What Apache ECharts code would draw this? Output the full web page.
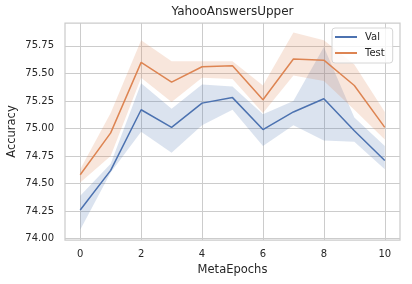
<!DOCTYPE html>
<html>
<head>
<meta charset="utf-8">
<script src="https://cdn.jsdelivr.net/npm/echarts@6/dist/echarts.min.js"></script>
<style>
html,body{margin:0;padding:0;background:#fff;}
#chart{width:412px;height:284px;}
</style>
</head>
<body>
<div id="chart"></div>
<script>
// ---- data ----
const epochs   = [0, 1, 2, 3, 4, 5, 6, 7, 8, 9, 10];
const valMean  = [74.26, 74.62, 75.17, 75.01, 75.23, 75.28, 74.99, 75.15, 75.27, 74.98, 74.71];
const valLow   = [74.08, 74.60, 74.97, 74.78, 75.03, 75.17, 74.84, 75.03, 74.89, 74.88, 74.63];
const valHigh  = [74.39, 74.68, 75.41, 75.18, 75.40, 75.38, 75.13, 75.25, 75.74, 75.10, 74.84];
const testMean = [74.58, 74.96, 75.60, 75.42, 75.56, 75.57, 75.26, 75.63, 75.62, 75.39, 75.01];
const testLow  = [74.51, 74.75, 75.46, 75.24, 75.46, 75.45, 75.14, 75.48, 75.43, 75.17, 74.90];
const testHigh = [74.63, 75.14, 75.80, 75.61, 75.61, 75.61, 75.39, 75.87, 75.80, 75.58, 75.15];
const xTicks = [0, 2, 4, 6, 8, 10];
const yTicks = [74.00, 74.25, 74.50, 74.75, 75.00, 75.25, 75.50, 75.75];
const seriesNames = ['Val', 'Test'];
const titleText = 'YahooAnswersUpper';
const xName = 'MetaEpochs';
const yName = 'Accuracy';

const FONT = 'DejaVu Sans';
const TXT = '#262626';
const GRID = '#cccccc';
const BLUE = '#4c72b0';
const ORANGE = '#dd8452';

function band(name, low, high, fill) {
  return {
    type: 'custom',
    name: name,
    silent: true,
    clip: true,
    data: epochs.map((x, i) => [x, low[i], high[i]]),
    encode: { x: 0, y: [1, 2] },
    renderItem: function (params, api) {
      if (params.dataIndex !== 0) return null;
      const pts = [];
      for (let i = 0; i < epochs.length; i++) pts.push(api.coord([epochs[i], high[i]]));
      for (let i = epochs.length - 1; i >= 0; i--) pts.push(api.coord([epochs[i], low[i]]));
      return { type: 'polygon', shape: { points: pts }, style: { fill: fill } };
    }
  };
}

function line(name, values, color) {
  return {
    type: 'line',
    name: name,
    data: epochs.map((x, i) => [x, values[i]]),
    showSymbol: false,
    symbol: 'none',
    lineStyle: { width: 1.5, color: color },
    itemStyle: { color: color },
    emphasis: { disabled: true },
    silent: true
  };
}

const chart = echarts.init(document.getElementById('chart'), null, { renderer: 'canvas' });
chart.setOption({
  animation: false,
  backgroundColor: '#ffffff',
  textStyle: { fontFamily: FONT },
  title: {
    text: titleText,
    left: 232.5,
    textAlign: 'center',
    top: 6,
    padding: 0,
    textStyle: { fontFamily: FONT, fontSize: 12, fontWeight: 'normal', color: TXT }
  },
  legend: {
    data: seriesNames,
    orient: 'vertical',
    left: 332,
    top: 28,
    icon: 'rect',
    itemWidth: 22,
    itemHeight: 2,
    itemGap: 4,
    padding: [3, 8, 4, 3],
    backgroundColor: 'rgba(255,255,255,0.8)',
    borderColor: '#d6d6d6',
    borderWidth: 1,
    borderRadius: 3,
    textStyle: { fontFamily: FONT, fontSize: 10, color: TXT, lineHeight: 12, padding: [0, 0, 0, 3] }
  },
  grid: {
    left: 65, right: 12, top: 23, bottom: 44,
    containLabel: false,
    outerBoundsMode: 'none',
    show: true, borderColor: GRID, borderWidth: 1.25, backgroundColor: '#ffffff'
  },
  xAxis: {
    type: 'value',
    min: -0.5, max: 10.5,
    name: xName,
    nameLocation: 'middle',
    nameGap: 24,
    nameMoveOverlap: false,
    nameTextStyle: { fontFamily: FONT, fontSize: 11.5, color: TXT },
    axisLine: { show: false },
    axisTick: { show: false, customValues: xTicks },
    axisLabel: { customValues: xTicks, margin: 9, fontFamily: FONT, fontSize: 10, color: TXT },
    splitLine: { show: true, lineStyle: { color: GRID, width: 1 } }
  },
  yAxis: {
    type: 'value',
    min: 73.988, max: 75.957,
    name: yName,
    nameLocation: 'middle',
    nameGap: 47,
    nameMoveOverlap: false,
    nameTextStyle: { fontFamily: FONT, fontSize: 11.5, color: TXT },
    axisLine: { show: false },
    axisTick: { show: false, customValues: yTicks },
    axisLabel: { customValues: yTicks, margin: 11, fontFamily: FONT, fontSize: 10, color: TXT,
                 formatter: v => Number(v).toFixed(2) },
    splitLine: { show: true, lineStyle: { color: GRID, width: 1 } }
  },
  series: [
    band('Val band', valLow, valHigh, 'rgba(76,114,176,0.2)'),
    line('Val', valMean, BLUE),
    band('Test band', testLow, testHigh, 'rgba(221,132,82,0.2)'),
    line('Test', testMean, ORANGE)
  ]
});
</script>
</body>
</html>
